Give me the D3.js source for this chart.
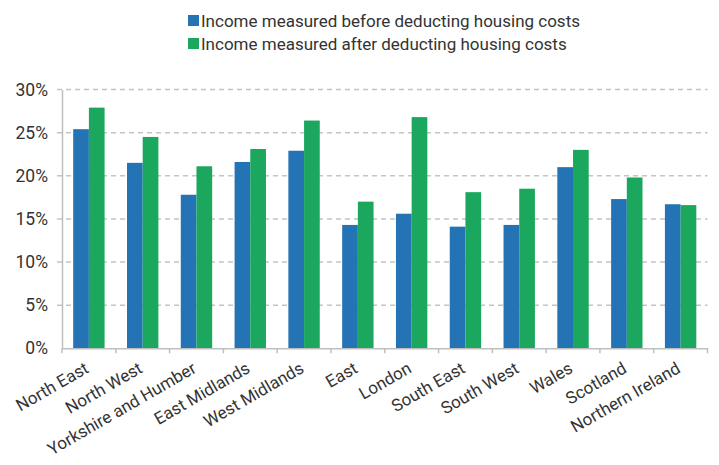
<!DOCTYPE html>
<html>
<head>
<meta charset="utf-8">
<script src="https://cdn.jsdelivr.net/npm/d3@7"></script>
<style>
  html, body { margin: 0; padding: 0; background: #fff; }
  svg { display: block; font-family: Roboto, "Liberation Sans", sans-serif; }
</style>
</head>
<body>
<svg id="chart" width="719" height="465"></svg>
<script>
const categories = ["North East", "North West", "Yorkshire and Humber", "East Midlands", "West Midlands", "East", "London", "South East", "South West", "Wales", "Scotland", "Northern Ireland"];
const seriesNames = ["Income measured before deducting housing costs", "Income measured after deducting housing costs"];
const beforeHousing = [25.4, 21.5, 17.8, 21.6, 22.9, 14.3, 15.6, 14.1, 14.3, 21.0, 17.3, 16.7];
const afterHousing = [27.9, 24.5, 21.1, 23.1, 26.4, 17.0, 26.8, 18.1, 18.5, 23.0, 19.8, 16.6];
const yTicks = [0, 5, 10, 15, 20, 25, 30];
const colors = ["#2474b5", "#1ca75e"];

const svg = d3.select("#chart");
const mLeft = 62, mRight = 707.5, mTop = 89.5, mBottom = 348.3;

const x0 = d3.scaleBand().domain(categories).range([mLeft, mRight]).padding(0);
const x1 = d3.scaleBand().domain([0, 1]).range([11.2, x0.bandwidth() - 11.2]).padding(0);
const y = d3.scaleLinear().domain([0, 30]).range([mBottom, mTop]);

// gridlines
svg.append("g").selectAll("line").data(yTicks.filter(d => d > 0)).join("line")
  .attr("x1", mLeft - 5).attr("x2", mRight)
  .attr("y1", d => y(d)).attr("y2", d => y(d))
  .attr("stroke", "#c4c4c4").attr("stroke-width", 1.5).attr("stroke-dasharray", "5,4");

// bars
const groups = svg.append("g").selectAll("g").data(categories).join("g")
  .attr("transform", d => `translate(${x0(d)},0)`);
groups.selectAll("rect").data((d, i) => [beforeHousing[i], afterHousing[i]]).join("rect")
  .attr("x", (d, j) => x1(j)).attr("width", x1.bandwidth())
  .attr("y", d => y(d)).attr("height", d => mBottom - y(d))
  .attr("fill", (d, j) => colors[j]);

// y axis
const yAxis = svg.append("g").attr("transform", `translate(${mLeft},0)`)
  .call(d3.axisLeft(y).tickValues(yTicks).tickFormat(d => d + "%").tickSize(0).tickPadding(14));
yAxis.select(".domain").attr("stroke", "#bfbfbf").attr("stroke-width", 1.5);
yAxis.selectAll("text").attr("font-size", 17.5).attr("fill", "#333").attr("font-family", "Roboto, sans-serif");

// x axis
const xAxis = svg.append("g").attr("transform", `translate(0,${mBottom})`)
  .call(d3.axisBottom(x0).tickSize(0).tickFormat(""));
xAxis.select(".domain").attr("stroke", "#bfbfbf").attr("stroke-width", 1.5);
xAxis.selectAll(".tick").remove();
const tickPos = categories.map(c => x0(c)).concat([mRight]);
xAxis.append("g").selectAll("line").data(tickPos).join("line")
  .attr("x1", d => d).attr("x2", d => d).attr("y1", 0).attr("y2", 5)
  .attr("stroke", "#bfbfbf").attr("stroke-width", 1.5);

// category labels
svg.append("g").selectAll("text").data(categories).join("text")
  .attr("transform", d => `translate(${x0(d) + x0.bandwidth() / 2 - 5},${mBottom + 13}) rotate(-30)`)
  .attr("text-anchor", "end").attr("dy", "0.7em")
  .attr("font-size", 17).attr("fill", "#333")
  .text(d => d);

// legend
const legend = svg.append("g");
seriesNames.forEach((name, i) => {
  const yy = 15 + i * 23;
  legend.append("rect").attr("x", 188).attr("y", yy).attr("width", 11).attr("height", 11).attr("fill", colors[i]);
  legend.append("text").attr("x", 201).attr("y", yy + 12).attr("font-size", 17).attr("fill", "#333").text(name);
});
</script>
</body>
</html>
